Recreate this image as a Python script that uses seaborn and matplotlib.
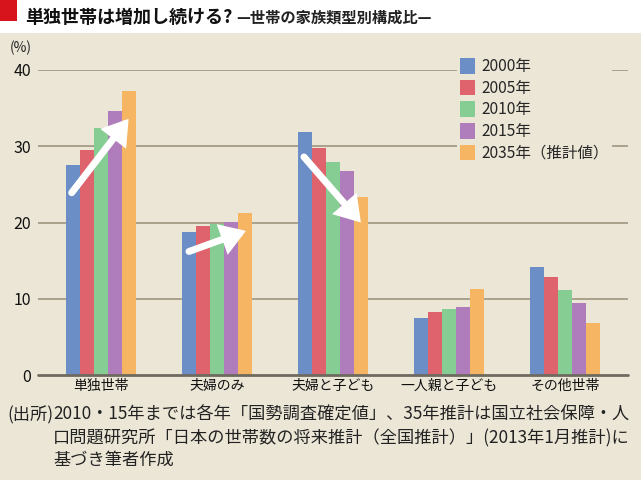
import pandas as pd
import numpy as np
import matplotlib
matplotlib.use("Agg")
import matplotlib.pyplot as plt
import seaborn as sns
from matplotlib.patches import Rectangle, FancyArrowPatch

# データ
categories = ['単独世帯', '夫婦のみ', '夫婦と子ども', '一人親と子ども', 'その他世帯']
years = ['2000年', '2005年', '2010年', '2015年', '2035年（推計値）']
v2000 = [27.6, 18.8, 31.9, 7.5, 14.1]
v2005 = [29.5, 19.6, 29.8, 8.2, 12.8]
v2010 = [32.4, 19.8, 27.9, 8.7, 11.1]
v2015 = [34.6, 20.1, 26.8, 8.9, 9.4]
v2035 = [37.3, 21.2, 23.3, 11.3, 6.8]
colors = ['#6a8ec5', '#df636c', '#86cd93', '#b07dbc', '#f6b562']

rows = []
for y, vals in zip(years, [v2000, v2005, v2010, v2015, v2035]):
    for c, v in zip(categories, vals):
        rows.append({'cat': c, 'year': y, 'val': v})
df = pd.DataFrame(rows)

sns.set_theme(style='white')
plt.rcParams['font.family'] = ['Noto Sans CJK JP', 'DejaVu Sans']

bg = '#ebe6d6'
fig = plt.figure(figsize=(6.41, 4.8), dpi=100)
fig.patch.set_facecolor('white')
W, H = 641, 480

# 背景パネルと赤い四角
fig.patches.append(Rectangle((0, 0), 1, 1 - 33 / H, transform=fig.transFigure,
                             facecolor=bg, edgecolor='none', zorder=-2))
fig.patches.append(Rectangle((0, 1 - 21 / H), 17 / W, 21 / H, transform=fig.transFigure,
                             facecolor='#d7141c', edgecolor='none', zorder=-1))

fig.text(25 / W, 1 - 17 / H, '単独世帯は増加し続ける?', fontsize=13, fontweight='bold',
         va='center', ha='left', color='#111111')
fig.text(236 / W, 1 - 18 / H, '—世帯の家族類型別構成比—', fontsize=11, fontweight='bold',
         va='center', ha='left', color='#222222')

ax = fig.add_axes([38 / W, 1 - 375 / H, (628 - 38) / W, (375 - 70) / H])
ax.set_facecolor(bg)

sns.barplot(data=df, x='cat', y='val', hue='year', order=categories, hue_order=years,
            palette=colors, width=0.6, saturation=1, ax=ax, zorder=3,
            edgecolor='none', linewidth=0)

ax.set_ylim(0, 40)
ax.set_xlim(-0.54, 4.54)
ax.set_yticks([0, 10, 20, 30, 40])
for s in ax.spines.values():
    s.set_visible(False)
for yv in [10, 20, 30, 40]:
    ax.axhline(yv, color='#a39b86', lw=1.3, zorder=1)
ax.axhline(0, color='#6e6a60', lw=2, zorder=4, clip_on=False)
ax.tick_params(axis='both', length=0)
ax.tick_params(axis='y', pad=5, labelsize=11.5, labelcolor='#111111')
ax.tick_params(axis='x', pad=3, labelsize=10, labelcolor='#111111')
ax.set_xlabel('')
ax.set_ylabel('')

# 矢印
arrows = [((-0.25, 23.9), (0.24, 33.6)),
          ((0.76, 16.2), (1.25, 18.9)),
          ((1.75, 28.6), (2.24, 20.0))]
for (x0, y0), (x1, y1) in arrows:
    ax.add_patch(FancyArrowPatch((x0, y0), (x1, y1), arrowstyle='-|>,head_length=6.5,head_width=4.2',
                                 mutation_scale=1.7, lw=5, color='white', zorder=6,
                                 shrinkA=0, shrinkB=0, joinstyle='miter'))

leg = ax.legend(loc='upper left', bbox_to_anchor=(457 / W, 1 - 55 / H),
                bbox_transform=fig.transFigure, frameon=True, fontsize=11.2,
                handlelength=0.95, handleheight=1.15, handletextpad=0.4,
                labelspacing=0.3, borderpad=0.2, borderaxespad=0)
leg.get_frame().set_facecolor(bg)
leg.get_frame().set_edgecolor('none')
leg.get_frame().set_alpha(1)
leg.set_zorder(7)

fig.text(10 / W, 1 - 48 / H, '(%)', fontsize=10, va='center', ha='left', color='#222222')

# 出所
fn = 12.4
fig.text(7 / W, 1 - 415 / H, '(出所)', fontsize=fn, va='center', ha='left', color='#222222')
fig.text(53 / W, 1 - 415 / H, '2010・15年までは各年「国勢調査確定値」、35年推計は国立社会保障・人',
         fontsize=fn, va='center', ha='left', color='#222222')
fig.text(53 / W, 1 - 438 / H, '口問題研究所「日本の世帯数の将来推計（全国推計）」(2013年1月推計)に',
         fontsize=fn, va='center', ha='left', color='#222222')
fig.text(53 / W, 1 - 460 / H, '基づき筆者作成', fontsize=fn, va='center', ha='left', color='#222222')

fig.savefig('out.png', dpi=100, facecolor=fig.get_facecolor())
